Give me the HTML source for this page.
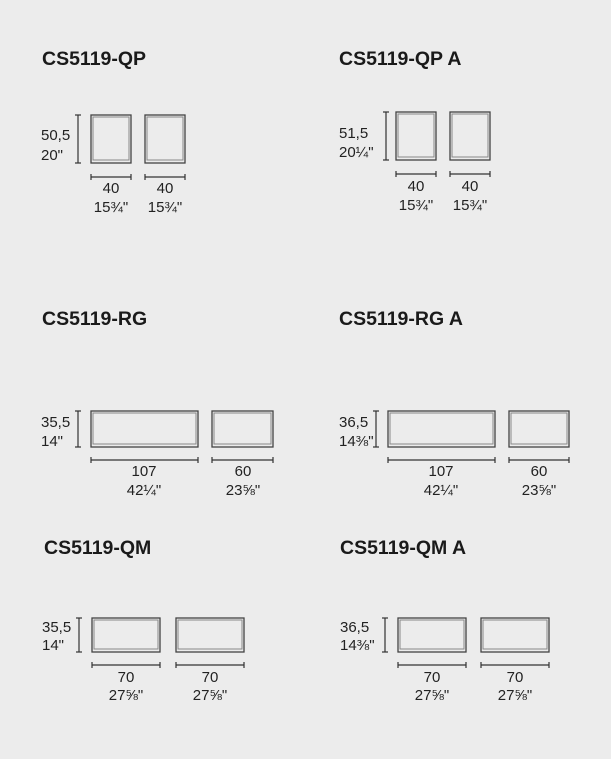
<!DOCTYPE html>
<html><head><meta charset="utf-8"><style>
html,body{margin:0;padding:0;background:#ececec;}
svg{display:block;}
text{font-family:"Liberation Sans",sans-serif;fill:#222;}
.t{font-size:19.5px;font-weight:bold;fill:#1a1a1a;}
.d{font-size:15px;}
.o{fill:none;stroke:#444;stroke-width:1.3;}
.i{fill:none;stroke:#888;stroke-width:1;}
.l{stroke:#333;stroke-width:1.2;}
</style></head><body>
<svg width="611" height="759" viewBox="0 0 611 759">
<text class="t" x="42" y="65">CS5119-QP</text>
<text class="t" x="339" y="65">CS5119-QP A</text>
<text class="t" x="42" y="325">CS5119-RG</text>
<text class="t" x="339" y="325">CS5119-RG A</text>
<text class="t" x="44" y="554">CS5119-QM</text>
<text class="t" x="340" y="554">CS5119-QM A</text>

<!-- QP -->
<line class="l" x1="78" y1="115" x2="78" y2="163"/><line class="l" x1="75" y1="115" x2="81" y2="115"/><line class="l" x1="75" y1="163" x2="81" y2="163"/>
<text class="d" x="41" y="140">50,5</text><text class="d" x="41" y="160">20"</text>
<rect class="o" x="91" y="115" width="40" height="48"/><rect class="i" x="93" y="117" width="36" height="43"/>
<rect class="o" x="145" y="115" width="40" height="48"/><rect class="i" x="147" y="117" width="36" height="43"/>
<line class="l" x1="91" y1="177" x2="131" y2="177"/><line class="l" x1="91" y1="174" x2="91" y2="180"/><line class="l" x1="131" y1="174" x2="131" y2="180"/>
<line class="l" x1="145" y1="177" x2="185" y2="177"/><line class="l" x1="145" y1="174" x2="145" y2="180"/><line class="l" x1="185" y1="174" x2="185" y2="180"/>
<text class="d" x="111" y="193" text-anchor="middle">40</text><text class="d" x="111" y="212" text-anchor="middle">15¾"</text>
<text class="d" x="165" y="193" text-anchor="middle">40</text><text class="d" x="165" y="212" text-anchor="middle">15¾"</text>

<!-- QP A -->
<line class="l" x1="386" y1="112" x2="386" y2="160"/><line class="l" x1="383" y1="112" x2="389" y2="112"/><line class="l" x1="383" y1="160" x2="389" y2="160"/>
<text class="d" x="339" y="138">51,5</text><text class="d" x="339" y="157">20¼"</text>
<rect class="o" x="396" y="112" width="40" height="48"/><rect class="i" x="398" y="114" width="36" height="43"/>
<rect class="o" x="450" y="112" width="40" height="48"/><rect class="i" x="452" y="114" width="36" height="43"/>
<line class="l" x1="396" y1="174" x2="436" y2="174"/><line class="l" x1="396" y1="171" x2="396" y2="177"/><line class="l" x1="436" y1="171" x2="436" y2="177"/>
<line class="l" x1="450" y1="174" x2="490" y2="174"/><line class="l" x1="450" y1="171" x2="450" y2="177"/><line class="l" x1="490" y1="171" x2="490" y2="177"/>
<text class="d" x="416" y="191" text-anchor="middle">40</text><text class="d" x="416" y="210" text-anchor="middle">15¾"</text>
<text class="d" x="470" y="191" text-anchor="middle">40</text><text class="d" x="470" y="210" text-anchor="middle">15¾"</text>

<!-- RG -->
<line class="l" x1="78" y1="411" x2="78" y2="447"/><line class="l" x1="75" y1="411" x2="81" y2="411"/><line class="l" x1="75" y1="447" x2="81" y2="447"/>
<text class="d" x="41" y="427">35,5</text><text class="d" x="41" y="446">14"</text>
<rect class="o" x="91" y="411" width="107" height="36"/><rect class="i" x="93" y="413" width="103" height="31"/>
<rect class="o" x="212" y="411" width="61" height="36"/><rect class="i" x="214" y="413" width="57" height="31"/>
<line class="l" x1="91" y1="460" x2="198" y2="460"/><line class="l" x1="91" y1="457" x2="91" y2="463"/><line class="l" x1="198" y1="457" x2="198" y2="463"/>
<line class="l" x1="212" y1="460" x2="273" y2="460"/><line class="l" x1="212" y1="457" x2="212" y2="463"/><line class="l" x1="273" y1="457" x2="273" y2="463"/>
<text class="d" x="144" y="476" text-anchor="middle">107</text><text class="d" x="144" y="495" text-anchor="middle">42¼"</text>
<text class="d" x="243" y="476" text-anchor="middle">60</text><text class="d" x="243" y="495" text-anchor="middle">23⅝"</text>

<!-- RG A -->
<line class="l" x1="376" y1="411" x2="376" y2="447"/><line class="l" x1="373" y1="411" x2="379" y2="411"/><line class="l" x1="373" y1="447" x2="379" y2="447"/>
<text class="d" x="339" y="427">36,5</text><text class="d" x="339" y="446">14⅜"</text>
<rect class="o" x="388" y="411" width="107" height="36"/><rect class="i" x="390" y="413" width="103" height="31"/>
<rect class="o" x="509" y="411" width="60" height="36"/><rect class="i" x="511" y="413" width="56" height="31"/>
<line class="l" x1="388" y1="460" x2="495" y2="460"/><line class="l" x1="388" y1="457" x2="388" y2="463"/><line class="l" x1="495" y1="457" x2="495" y2="463"/>
<line class="l" x1="509" y1="460" x2="569" y2="460"/><line class="l" x1="509" y1="457" x2="509" y2="463"/><line class="l" x1="569" y1="457" x2="569" y2="463"/>
<text class="d" x="441" y="476" text-anchor="middle">107</text><text class="d" x="441" y="495" text-anchor="middle">42¼"</text>
<text class="d" x="539" y="476" text-anchor="middle">60</text><text class="d" x="539" y="495" text-anchor="middle">23⅝"</text>

<!-- QM -->
<line class="l" x1="79" y1="618" x2="79" y2="652"/><line class="l" x1="76" y1="618" x2="82" y2="618"/><line class="l" x1="76" y1="652" x2="82" y2="652"/>
<text class="d" x="42" y="632">35,5</text><text class="d" x="42" y="650">14"</text>
<rect class="o" x="92" y="618" width="68" height="34"/><rect class="i" x="94" y="620" width="64" height="29"/>
<rect class="o" x="176" y="618" width="68" height="34"/><rect class="i" x="178" y="620" width="64" height="29"/>
<line class="l" x1="92" y1="665" x2="160" y2="665"/><line class="l" x1="92" y1="662" x2="92" y2="668"/><line class="l" x1="160" y1="662" x2="160" y2="668"/>
<line class="l" x1="176" y1="665" x2="244" y2="665"/><line class="l" x1="176" y1="662" x2="176" y2="668"/><line class="l" x1="244" y1="662" x2="244" y2="668"/>
<text class="d" x="126" y="682" text-anchor="middle">70</text><text class="d" x="126" y="700" text-anchor="middle">27⅝"</text>
<text class="d" x="210" y="682" text-anchor="middle">70</text><text class="d" x="210" y="700" text-anchor="middle">27⅝"</text>

<!-- QM A -->
<line class="l" x1="385" y1="618" x2="385" y2="652"/><line class="l" x1="382" y1="618" x2="388" y2="618"/><line class="l" x1="382" y1="652" x2="388" y2="652"/>
<text class="d" x="340" y="632">36,5</text><text class="d" x="340" y="650">14⅜"</text>
<rect class="o" x="398" y="618" width="68" height="34"/><rect class="i" x="400" y="620" width="64" height="29"/>
<rect class="o" x="481" y="618" width="68" height="34"/><rect class="i" x="483" y="620" width="64" height="29"/>
<line class="l" x1="398" y1="665" x2="466" y2="665"/><line class="l" x1="398" y1="662" x2="398" y2="668"/><line class="l" x1="466" y1="662" x2="466" y2="668"/>
<line class="l" x1="481" y1="665" x2="549" y2="665"/><line class="l" x1="481" y1="662" x2="481" y2="668"/><line class="l" x1="549" y1="662" x2="549" y2="668"/>
<text class="d" x="432" y="682" text-anchor="middle">70</text><text class="d" x="432" y="700" text-anchor="middle">27⅝"</text>
<text class="d" x="515" y="682" text-anchor="middle">70</text><text class="d" x="515" y="700" text-anchor="middle">27⅝"</text>
</svg>
</body></html>
